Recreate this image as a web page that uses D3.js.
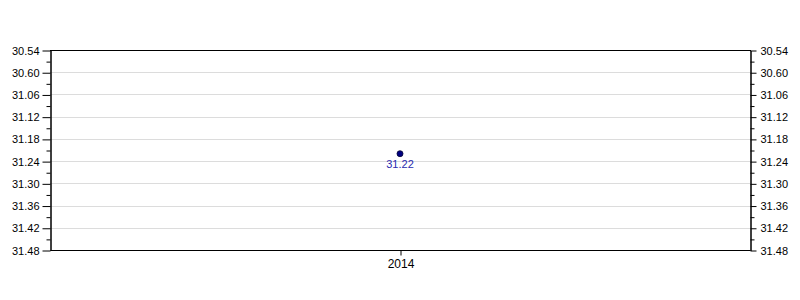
<!DOCTYPE html>
<html>
<head>
<meta charset="utf-8">
<script src="https://cdn.jsdelivr.net/npm/d3@7"></script>
<style>
  body { margin: 0; background: #fff; }
  text { font-family: "Liberation Sans", Arial, sans-serif; }
</style>
</head>
<body>
<div id="chart"></div>
<script>
// Years on the x axis
const years = ["2014"];
// Times written as minutes.seconds
const times = ["31.22"];
// Y axis tick labels (minutes.seconds, top to bottom)
const yTickLabels = ["30.54", "30.60", "31.06", "31.12", "31.18", "31.24", "31.30", "31.36", "31.42", "31.48"];

const width = 800, height = 300;
const margin = { top: 50, right: 50, bottom: 50, left: 50 };

// convert "mm.ss" into seconds
const toSeconds = s => {
    const [m, sec] = s.split(".").map(Number);
    return m * 60 + sec;
};

const tickSeconds = yTickLabels.map(toSeconds);

const svg = d3.select("#chart")
    .append("svg")
    .attr("width", width)
    .attr("height", height);

const xScale = d3.scalePoint()
    .domain(years)
    .range([margin.left, width - margin.right])
    .padding(0.5);

const yScale = d3.scaleLinear()
    .domain([tickSeconds[0], tickSeconds[tickSeconds.length - 1]])
    .range([margin.top, height - margin.bottom]);

// minor ticks halfway between labelled ones
const minorTicks = d3.range(tickSeconds[0], tickSeconds[tickSeconds.length - 1] + 1, 3)
    .filter(v => !tickSeconds.includes(v));

// Gridlines
svg.append("g")
    .selectAll("line")
    .data(tickSeconds.slice(1, -1))
    .join("line")
    .attr("x1", margin.left)
    .attr("x2", width - margin.right)
    .attr("y1", d => Math.round(yScale(d)) + 0.5)
    .attr("y2", d => Math.round(yScale(d)) + 0.5)
    .attr("stroke", "#dcdcdc")
    .attr("stroke-width", 1);

const labelFor = d => yTickLabels[tickSeconds.indexOf(d)];

function styleAxis(g, size) {
    g.selectAll("text")
        .attr("font-size", (size || 11) + "px")
        .attr("fill", "#000");
    g.selectAll("line, path").attr("stroke", "#000");
}

// Left axis
svg.append("g")
    .attr("transform", `translate(${margin.left + 0.5},0.5)`)
    .call(d3.axisLeft(yScale).tickValues(tickSeconds).tickFormat(labelFor).tickSize(8).tickSizeOuter(0).tickPadding(3))
    .call(styleAxis);
svg.append("g")
    .attr("transform", `translate(${margin.left + 0.5},0.5)`)
    .call(d3.axisLeft(yScale).tickValues(minorTicks).tickFormat("").tickSize(4).tickSizeOuter(0))
    .call(styleAxis);

// Right axis
svg.append("g")
    .attr("transform", `translate(${width - margin.right + 0.5},0.5)`)
    .call(d3.axisRight(yScale).tickValues(tickSeconds).tickFormat(labelFor).tickSize(6).tickSizeOuter(0).tickPadding(4))
    .call(styleAxis);
svg.append("g")
    .attr("transform", `translate(${width - margin.right + 0.5},0.5)`)
    .call(d3.axisRight(yScale).tickValues(minorTicks).tickFormat("").tickSize(4).tickSizeOuter(0))
    .call(styleAxis);

// Bottom axis
svg.append("g")
    .attr("transform", `translate(0.5,${height - margin.bottom + 0.5})`)
    .call(d3.axisBottom(xScale).tickSize(5).tickSizeOuter(0).tickPadding(4))
    .call(g => g.select(".domain").attr("d", `M${margin.left},0H${width - margin.right}`))
    .call(g => styleAxis(g, 12));

// Top border
svg.append("line")
    .attr("x1", margin.left)
    .attr("x2", width - margin.right + 1)
    .attr("y1", margin.top + 0.5)
    .attr("y2", margin.top + 0.5)
    .attr("stroke", "#000");

// Points
const points = years.map((y, i) => ({ year: y, label: times[i], value: toSeconds(times[i]) }));

svg.append("g")
    .selectAll("circle")
    .data(points)
    .join("circle")
    .attr("cx", d => xScale(d.year))
    .attr("cy", d => yScale(d.value))
    .attr("r", 3)
    .attr("fill", "#000080")
    .attr("stroke", "#000033")
    .attr("stroke-width", 0.8);

svg.append("g")
    .selectAll("text")
    .data(points)
    .join("text")
    .attr("x", d => xScale(d.year))
    .attr("y", d => yScale(d.value) + 14)
    .attr("text-anchor", "middle")
    .attr("font-size", "11px")
    .attr("fill", "#2b2bb0")
    .text(d => d.label);
</script>
</body>
</html>
